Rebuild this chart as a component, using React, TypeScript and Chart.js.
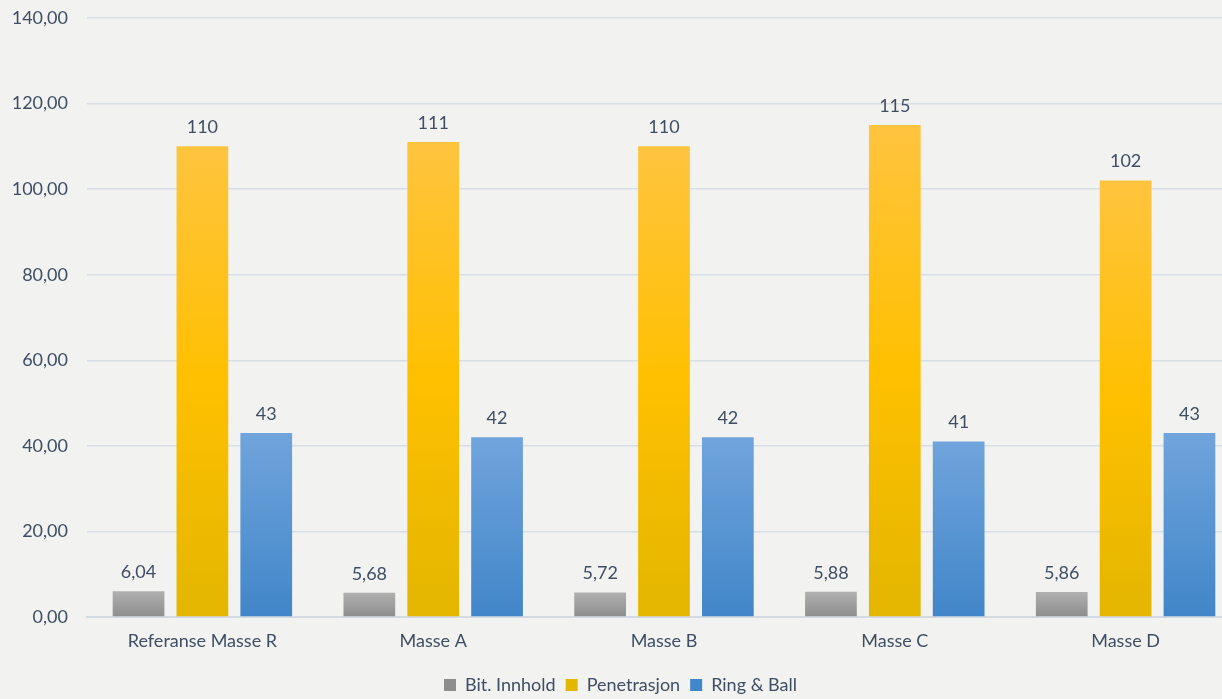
import React, { useEffect, useRef } from "react";
import { Chart, registerables } from "chart.js";

Chart.register(...registerables);

const categories = ["Referanse Masse R", "Masse A", "Masse B", "Masse C", "Masse D"];
const bitInnhold = [6.04, 5.68, 5.72, 5.88, 5.86];
const penetrasjon = [110, 111, 110, 115, 102];
const ringBall = [43, 42, 42, 41, 43];
const seriesNames = ["Bit. Innhold", "Penetrasjon", "Ring & Ball"];
const yMin = 0;
const yMax = 140;
const yStep = 20;

const TEXT = "#3f4e64";
const FONT = "Lato, 'Open Sans', sans-serif";
const FS = 18;

function gradientFill(stops: [number, string][], solid: string) {
  return (ctx: any) => {
    const chart = ctx.chart;
    if (ctx.type !== "data" || !chart.chartArea) return solid;
    const y = chart.scales.y;
    const top = y.getPixelForValue(ctx.raw);
    const bottom = y.getPixelForValue(0);
    if (!isFinite(top) || !isFinite(bottom) || top === bottom) return solid;
    const g = chart.ctx.createLinearGradient(0, top, 0, bottom);
    stops.forEach(([o, c]) => g.addColorStop(o, c));
    return g;
  };
}

const labelPlugin = {
  id: "barLabels",
  afterDatasetsDraw(chart: any) {
    const c = chart.ctx;
    c.save();
    c.font = `${FS}px ${FONT}`;
    c.fillStyle = TEXT;
    c.textAlign = "center";
    c.textBaseline = "middle";
    chart.data.datasets.forEach((ds: any, di: number) => {
      const meta = chart.getDatasetMeta(di);
      meta.data.forEach((bar: any, i: number) => {
        const v = ds.data[i];
        const txt = di === 0 ? v.toFixed(2).replace(".", ",") : String(Math.round(v));
        c.fillText(txt, bar.x, bar.y - 19);
      });
    });
    c.restore();
  },
};

const bgPlugin = {
  id: "bg",
  beforeDraw(chart: any) {
    const c = chart.ctx;
    c.save();
    c.fillStyle = "#f2f2f0";
    c.fillRect(0, 0, chart.width, chart.height);
    c.restore();
  },
};

export default function App() {
  const ref = useRef<HTMLCanvasElement>(null);
  useEffect(() => {
    document.body.style.margin = "0";
    const chart = new Chart(ref.current!, {
      type: "bar",
      data: {
        labels: categories,
        datasets: [
          {
            label: seriesNames[0],
            data: bitInnhold,
            backgroundColor: gradientFill([[0, "#b0b0b0"], [1, "#8d8d8d"]], "#a0a0a0"),
            borderWidth: 0,
          },
          {
            label: seriesNames[1],
            data: penetrasjon,
            backgroundColor: gradientFill(
              [[0, "#ffc43f"], [0.5, "#ffc000"], [1, "#e3b600"]],
              "#ffc000"
            ),
            borderWidth: 0,
          },
          {
            label: seriesNames[2],
            data: ringBall,
            backgroundColor: gradientFill([[0, "#70a4dc"], [1, "#4186c9"]], "#5b9bd5"),
            borderWidth: 0,
          },
        ],
      },
      options: {
        responsive: false,
        animation: false,
        events: [],
        categoryPercentage: 0.83,
        barPercentage: 0.81,
        layout: { padding: { top: 18, left: 0, right: 0, bottom: -5 } },
        plugins: {
          tooltip: { enabled: false },
          legend: {
            position: "bottom",
            labels: {
              boxWidth: 12,
              boxHeight: 12,
              padding: 10,
              color: TEXT,
              font: { family: FONT, size: FS },
            },
          },
        },
        scales: {
          x: {
            grid: { display: false, drawTicks: false },
            border: { display: true, color: "#d3dae3", width: 2 },
            ticks: { color: TEXT, font: { family: FONT, size: FS }, padding: 13 },
            afterFit: (s: any) => {
              s.height = 49;
              s.paddingLeft = 0;
              s.paddingRight = 0;
            },
          },
          y: {
            min: yMin,
            max: yMax,
            ticks: {
              stepSize: yStep,
              padding: 19,
              color: TEXT,
              font: { family: FONT, size: FS },
              callback: (v: any) => Number(v).toFixed(2).replace(".", ","),
            },
            grid: { color: "#d8dee6", lineWidth: 1.5, drawTicks: false },
            border: { display: false },
            afterFit: (s: any) => {
              s.width = 87;
              s.paddingTop = 0;
              s.paddingBottom = 0;
            },
          },
        },
      },
      plugins: [bgPlugin, labelPlugin],
    });
    return () => chart.destroy();
  }, []);
  return (
    <div style={{ width: 1222, height: 699, overflow: "hidden", position: "relative", background: "#f2f2f0" }}>
      <canvas ref={ref} width={1241} height={699} style={{ display: "block" }} />
    </div>
  );
}
